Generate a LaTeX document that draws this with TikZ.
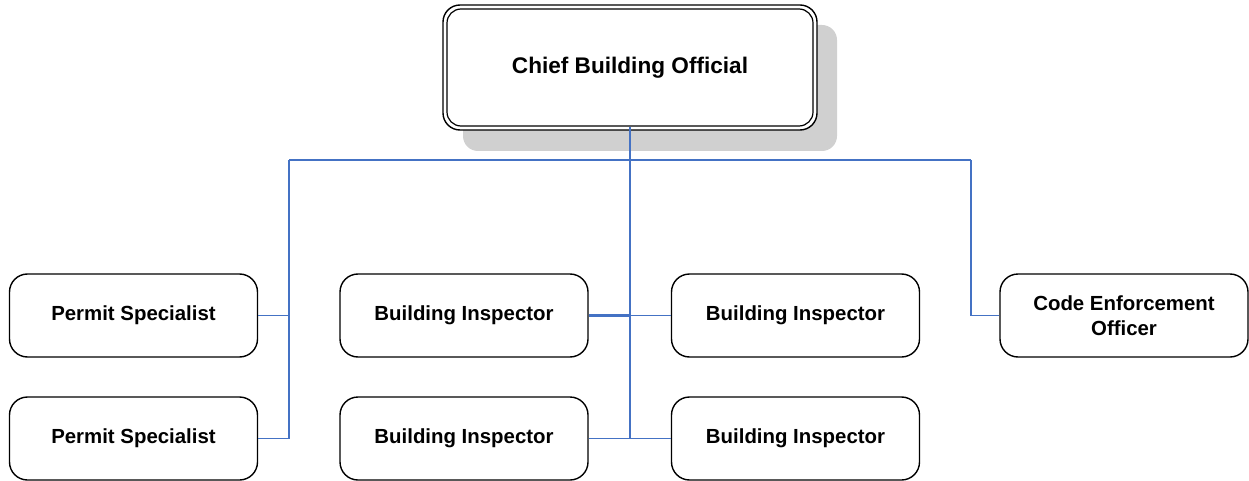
\documentclass[tikz,border=0pt]{standalone}
\usepackage{fontspec}
\setmainfont{Liberation Sans}
\definecolor{conn}{HTML}{4472C4}
\definecolor{shadowgray}{HTML}{D0D0D0}
\tikzset{
  orgbox/.style={draw=black, line width=1.4pt, rounded corners=18pt, fill=white,
    minimum width=248pt, minimum height=83pt, inner sep=0pt, align=center,
    font=\fontsize{20.4}{25}\selectfont\bfseries},
  link/.style={draw=conn, line width=1.9pt},
}
\begin{document}
\begin{tikzpicture}[x=1pt,y=-1pt]
\useasboundingbox (0,0) rectangle (1249,481);
% top box shadow
\fill[shadowgray, rounded corners=15pt] (463,25) rectangle (837,151);
% top box double border
\draw[black, line width=1.4pt, rounded corners=17pt, fill=white] (443,5) rectangle (817,130);
\node[draw=black, line width=1.2pt, rounded corners=14pt, minimum width=366pt, minimum height=117pt,
  inner sep=0pt, font=\fontsize{22.6}{27}\selectfont\bfseries] (chief) at (630,67.5) {Chief Building Official};
% subordinate boxes
\node[orgbox] (ps1) at (133.5,315.5) {Permit Specialist};
\node[orgbox] (ps2) at (133.5,438.5) {Permit Specialist};
\node[orgbox] (bi1) at (464,315.5) {Building Inspector};
\node[orgbox] (bi3) at (464,438.5) {Building Inspector};
\node[orgbox] (bi2) at (795.5,315.5) {Building Inspector};
\node[orgbox] (bi4) at (795.5,438.5) {Building Inspector};
\node[orgbox] (ceo) at (1124,315.5) {Code Enforcement\\Officer};
% connectors
\coordinate (busL) at (289,160);
\coordinate (busR) at (971,160);
\coordinate (midTop) at (630,315.5);
\coordinate (midBot) at (630,438.5);
\draw[link, line width=2.3pt] (chief.south) -- (midBot);
\draw[link] (busL) -- (busR);
\draw[link] (busL) |- (ps1.east);
\draw[link] (busL) |- (ps2.east);
\draw[link] (busR) |- (ceo.west);
\draw[link, line width=2.6pt] (bi1.east) -- (midTop);
\draw[link, line width=1.6pt] (midTop) -- (bi2.west);
\draw[link] (bi3.east) -- (midBot) -- (bi4.west);
\end{tikzpicture}
\end{document}
